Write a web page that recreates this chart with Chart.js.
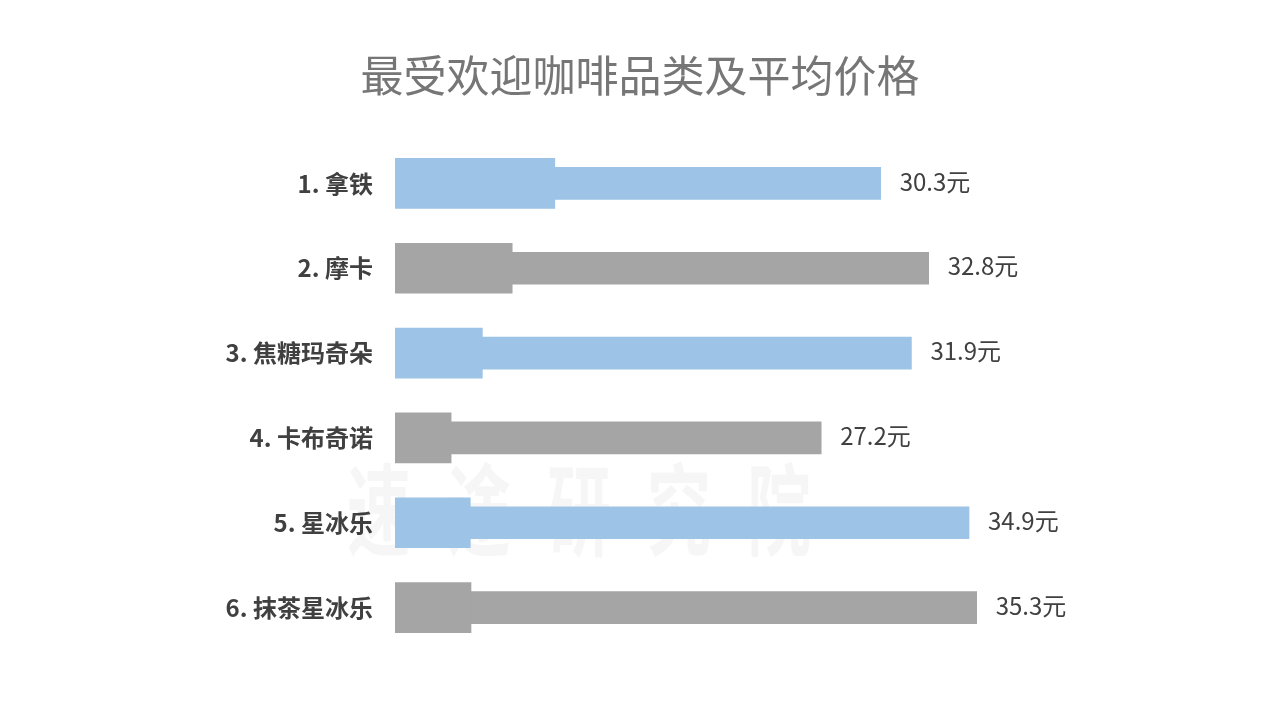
<!DOCTYPE html>
<html>
<head>
<meta charset="utf-8">
<script src="https://cdn.jsdelivr.net/npm/chart.js@4/dist/chart.umd.min.js"></script>
<style>
  html, body { margin: 0; padding: 0; background: #ffffff; }
  #wrap { width: 1280px; height: 720px; position: relative; }
</style>
</head>
<body>
<div id="wrap"><canvas id="coffee-chart"></canvas></div>
<script>
var categories = ['1. 拿铁', '2. 摩卡', '3. 焦糖玛奇朵', '4. 卡布奇诺', '5. 星冰乐', '6. 抹茶星冰乐'];
var avgPrice = [30.3, 32.8, 31.9, 27.2, 34.9, 35.3];
// short thick bars: relative popularity
var popularity = [22.5, 16.5, 12.3, 7.9, 10.6, 10.7];

var FONT = '"Noto Sans CJK SC", "Microsoft YaHei", sans-serif';
var colors = categories.map(function(_, i) { return i % 2 === 0 ? '#9DC3E6' : '#A5A5A5'; });

// faint watermark behind the bars
var watermark = {
  id: 'watermark',
  beforeDatasetsDraw: function(chart) {
    var ctx = chart.ctx;
    var text = '速途研究院';
    ctx.save();
    ctx.fillStyle = 'rgba(0,0,0,0.035)';
    ctx.font = 'bold 100px ' + FONT;
    ctx.textAlign = 'center';
    ctx.textBaseline = 'middle';
    for (var i = 0; i < text.length; i++) {
      ctx.save();
      ctx.translate(379 + i * 100, 510);
      ctx.scale(0.64, 1);
      ctx.fillText(text[i], 0, 0);
      ctx.restore();
    }
    ctx.restore();
  }
};

// price labels at the end of the long bars
var priceLabels = {
  id: 'priceLabels',
  afterDatasetsDraw: function(chart) {
    var ctx = chart.ctx;
    var meta = chart.getDatasetMeta(1);
    ctx.save();
    ctx.fillStyle = '#404040';
    ctx.font = '24px ' + FONT;
    ctx.textAlign = 'left';
    ctx.textBaseline = 'middle';
    meta.data.forEach(function(bar, i) {
      ctx.fillText(avgPrice[i].toFixed(1) + '元', bar.x + 19, bar.y - 2);
    });
    ctx.restore();
  }
};

new Chart(document.getElementById('coffee-chart'), {
  type: 'bar',
  data: {
    labels: categories,
    datasets: [
      { label: '热度', data: popularity, xAxisID: 'x2', backgroundColor: colors, barThickness: 50, grouped: false, borderWidth: 0 },
      { label: '平均价格', data: avgPrice, xAxisID: 'x', backgroundColor: colors, barThickness: 32, grouped: false, borderWidth: 0 }
    ]
  },
  options: {
    responsive: true, maintainAspectRatio: false, indexAxis: 'y', animation: false,
    layout: { padding: { top: 0, right: 0, bottom: 70, left: 0 } },
    plugins: {
      legend: { display: false },
      tooltip: { enabled: false },
      title: {
        display: true, text: '最受欢迎咖啡品类及平均价格', color: '#767676',
        font: { family: FONT, size: 43, weight: 'normal' },
        padding: { top: 50, bottom: 39.4 }
      }
    },
    scales: {
      x: { display: false, min: 5, max: 51.1 },
      x2: { display: false, min: 0, max: 124.6 },
      y: {
        grid: { display: false }, border: { display: false },
        ticks: { color: '#404040', padding: 14, font: { family: FONT, size: 24, weight: 'bold' } },
        afterFit: function(scale) { scale.width = 395; }
      }
    }
  },
  plugins: [watermark, priceLabels]
});
</script>
</body>
</html>
